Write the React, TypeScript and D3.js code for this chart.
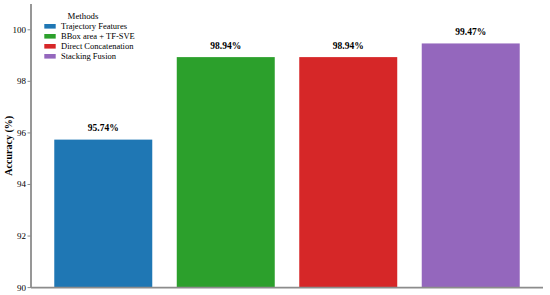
import React from "react";
import * as d3 from "d3";

const methods = ["Trajectory Features", "BBox area + TF-SVE", "Direct Concatenation", "Stacking Fusion"];
const accuracy = [95.74, 98.94, 98.94, 99.47];
const colors = ["#1f77b4", "#2ca02c", "#d62728", "#9467bd"];
const yTicks = [90, 92, 94, 96, 98, 100];

const W = 550, H = 295;
const left = 31, right = 543, top = 4, bottom = 287.6;

export default function App() {
  const x = d3.scaleBand<string>().domain(methods).range([left, right]).paddingInner(0.2).paddingOuter(0.19);
  const y = d3.scaleLinear().domain([90, 101]).range([bottom, top]);
  const font = "'Liberation Serif', 'Times New Roman', serif";
  const axisColor = "#8c8c8c";
  return (
    <svg width={W} height={H} style={{ position: "absolute", left: 0, top: 0, fontFamily: font }}>
      <rect width={W} height={H} fill="#fff" />
      {methods.map((m, i) => (
        <g key={m}>
          <rect x={x(m)} y={y(accuracy[i])} width={x.bandwidth()} height={bottom - y(accuracy[i])} fill={colors[i]} />
          <text x={(x(m) as number) + x.bandwidth() / 2} y={y(accuracy[i]) - 8.5} textAnchor="middle" fontSize={9.5} fontWeight="bold" fill="#000">
            {accuracy[i].toFixed(2)}%
          </text>
        </g>
      ))}
      <line x1={left} x2={left} y1={top} y2={bottom} stroke={axisColor} strokeWidth={1.8} />
      <line x1={left} x2={right} y1={bottom} y2={bottom} stroke={axisColor} strokeWidth={1.8} />
      {yTicks.map((t) => (
        <g key={t}>
          <line x1={left - 3.5} x2={left} y1={y(t)} y2={y(t)} stroke={axisColor} strokeWidth={1} />
          <text x={left - 5} y={y(t)} dy="0.33em" textAnchor="end" fontSize={9} fill="#000">{t}</text>
        </g>
      ))}
      <text transform={`translate(9,${(top + bottom) / 2}) rotate(-90)`} textAnchor="middle" dy="0.33em" fontSize={10} fontWeight="bold" fill="#000">
        Accuracy (%)
      </text>
      <text x={83} y={19} textAnchor="middle" fontSize={8.8} fill="#000">Methods</text>
      {methods.map((m, i) => (
        <g key={"lg" + m}>
          <rect x={44.3} y={24 + i * 10} width={11.4} height={4.6} fill={colors[i]} />
          <text x={61} y={26.3 + i * 10} dy="0.33em" fontSize={8.5} fill="#000">{m}</text>
        </g>
      ))}
    </svg>
  );
}
